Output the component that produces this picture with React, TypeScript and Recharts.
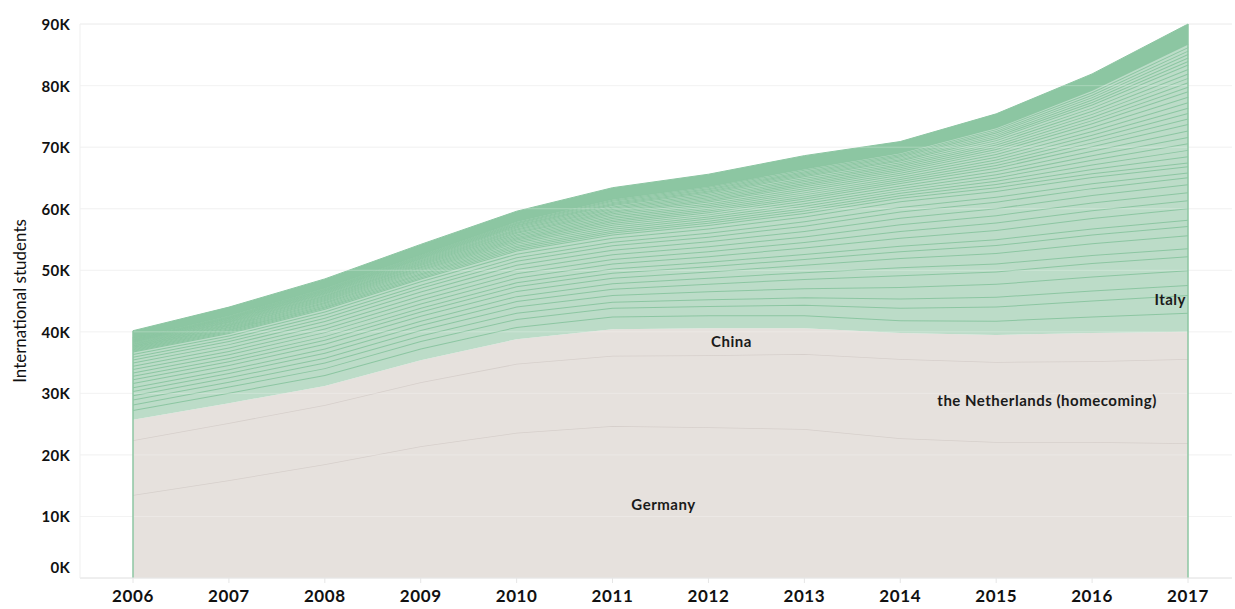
import { AreaChart, Area, XAxis, YAxis, CartesianGrid, ReferenceLine, ReferenceDot } from "recharts";

const years = ["2006", "2007", "2008", "2009", "2010", "2011", "2012", "2013", "2014", "2015", "2016", "2017"];
const yTicks = [0, 10000, 20000, 30000, 40000, 50000, 60000, 70000, 80000, 90000];

// bottom (beige) origins
const germany = [13500, 15900, 18500, 21400, 23600, 24700, 24500, 24200, 22700, 22100, 22100, 21900];
const netherlands = [8900, 9300, 9600, 10400, 11200, 11400, 11700, 12200, 12900, 13000, 13100, 13700];
const china = [3300, 3200, 3100, 3600, 4000, 4300, 4400, 4200, 4200, 4400, 4600, 4400];

// green origins, stacked from the bottom up
const originBelowItaly = [1600, 1700, 1800, 1900, 2000, 2100, 2100, 2100, 2100, 2300, 2700, 3100];
const italy = [900, 1000, 1100, 1200, 1300, 1400, 1500, 1700, 2000, 2300, 2600, 2900];
const mediumOrigins = [
  [800, 800, 900, 900, 1000, 1000, 1100, 1200, 1500, 1600, 1600, 1600],
  [700, 700, 800, 900, 1000, 1100, 1300, 1500, 1900, 2100, 2300, 2400],
  [700, 700, 800, 800, 900, 1000, 1200, 1500, 1900, 2000, 2200, 2300],
  [600, 600, 700, 700, 800, 900, 1000, 1100, 1300, 1300, 1300, 1300],
  [700, 700, 750, 800, 850, 900, 1000, 1200, 1500, 1700, 1900, 2100],
  [600, 600, 650, 700, 750, 800, 850, 950, 1100, 1300, 1400, 1500],
  [550, 550, 600, 600, 650, 700, 750, 800, 900, 950, 1000, 1000],
  [550, 600, 650, 700, 750, 800, 900, 1050, 1300, 1500, 1700, 1900],
  [550, 550, 600, 650, 700, 750, 800, 900, 1100, 1200, 1250, 1300],
  [550, 550, 600, 650, 700, 750, 800, 900, 1100, 1200, 1250, 1300],
  [500, 550, 600, 650, 700, 750, 800, 900, 1050, 1150, 1250, 1300],
  [500, 500, 550, 600, 650, 700, 750, 850, 1000, 1050, 1100, 1100],
  [450, 450, 500, 500, 550, 600, 650, 700, 750, 800, 800, 800],
  [450, 450, 500, 550, 600, 650, 700, 800, 900, 950, 1000, 1000],
  [400, 400, 450, 450, 500, 500, 550, 550, 600, 600, 600, 600],
];
const smallOrigins = [
  [130, 165, 195, 225, 270, 325, 355, 400, 400, 520, 720, 1020],
  [120, 155, 185, 215, 260, 315, 345, 395, 395, 525, 735, 1045],
  [125, 160, 190, 220, 265, 320, 350, 390, 390, 530, 750, 1060],
  [115, 150, 180, 210, 255, 310, 340, 395, 400, 525, 730, 1040],
  [120, 155, 185, 215, 260, 315, 345, 400, 395, 520, 740, 1050],
  [110, 150, 175, 205, 250, 305, 335, 390, 390, 530, 735, 1055],
  [105, 140, 165, 185, 225, 270, 295, 335, 340, 450, 625, 890],
  [100, 135, 160, 180, 220, 265, 290, 330, 335, 445, 620, 885],
  [95, 130, 155, 175, 215, 260, 285, 325, 330, 440, 615, 880],
  [100, 135, 160, 180, 220, 265, 290, 330, 335, 445, 620, 885],
  [105, 135, 160, 185, 225, 270, 290, 335, 340, 450, 625, 890],
  [95, 135, 160, 175, 215, 260, 290, 325, 330, 440, 615, 880],
  [85, 115, 135, 155, 185, 225, 245, 275, 280, 370, 515, 730],
  [80, 110, 130, 150, 180, 220, 240, 270, 275, 365, 510, 725],
  [80, 110, 130, 150, 180, 220, 240, 270, 275, 365, 510, 725],
  [75, 105, 125, 145, 175, 215, 235, 265, 270, 360, 505, 720],
  [85, 110, 130, 150, 180, 220, 240, 275, 280, 370, 510, 730],
  [75, 110, 130, 150, 180, 220, 240, 265, 270, 360, 510, 720],
  [70, 90, 105, 120, 145, 175, 190, 215, 220, 290, 400, 570],
  [65, 85, 100, 115, 140, 170, 185, 210, 215, 285, 395, 565],
  [65, 85, 100, 115, 140, 170, 185, 210, 215, 285, 395, 565],
  [60, 80, 95, 110, 135, 165, 180, 205, 210, 280, 390, 560],
  [65, 85, 100, 115, 140, 170, 185, 210, 215, 285, 395, 565],
  [60, 85, 100, 115, 140, 170, 185, 210, 215, 285, 395, 565],
];
const remainingOrigins = [1200, 1300, 1400, 1600, 1600, 1800, 1900, 2100, 1800, 2200, 2600, 3200];

const BEIGE = "#e6e1dd";
const BEIGE_LINE = "#d6cfcb";
const GREEN = "#bcdcc8";
const GREEN_LINE = "#8cc6a2";
const FONT = "Lato, 'Open Sans', sans-serif";

const greenRows = [originBelowItaly, italy, ...mediumOrigins, ...smallOrigins];
const greenKeys = greenRows.map((_, k) => `g${k}`);

const data = years.map((year, i) => {
  const row: Record<string, number | string> = {
    year,
    germany: germany[i],
    netherlands: netherlands[i],
    china: china[i],
    rest: remainingOrigins[i],
  };
  greenRows.forEach((r, k) => {
    row[greenKeys[k]] = r[i];
  });
  return row;
});

const totals = years.map(
  (_, i) =>
    germany[i] + netherlands[i] + china[i] + remainingOrigins[i] + greenRows.reduce((s, r) => s + r[i], 0)
);

// eslint-disable-next-line @typescript-eslint/no-explicit-any
const YTick = (props: any) => {
  const { x, y, payload } = props;
  return (
    <text
      x={x}
      y={payload.value === 0 ? y - 11 : y}
      textAnchor="end"
      dominantBaseline="central"
      fontFamily={FONT}
      fontWeight={700}
      fontSize={15}
      letterSpacing={0.3}
      fill="#111"
    >
      {payload.value / 1000}K
    </text>
  );
};

// eslint-disable-next-line @typescript-eslint/no-explicit-any
const yLabel = (props: any) => {
  const { viewBox } = props;
  const cx = viewBox.x + 19;
  const cy = viewBox.y + viewBox.height / 2;
  return (
    <text
      x={cx}
      y={cy}
      transform={`rotate(-90 ${cx} ${cy})`}
      textAnchor="middle"
      dominantBaseline="central"
      fontFamily={FONT}
      fontSize={17}
      fill="#111"
    >
      International students
    </text>
  );
};

const areaLabel = (text: string, dx: number, anchor: "start" | "middle" | "end") =>
  // eslint-disable-next-line @typescript-eslint/no-explicit-any
  (props: any) => (
    <text
      x={props.cx + dx}
      y={props.cy}
      textAnchor={anchor}
      dominantBaseline="central"
      fontFamily={FONT}
      fontWeight={700}
      fontSize={15}
      letterSpacing={0.5}
      fill="#1a1a1a"
    >
      {text}
    </text>
  );

export default function App() {
  return (
    <div style={{ width: 1235, height: 609 }}>
      <style>{"body{margin:0}"}</style>
      <AreaChart width={1235} height={609} data={data} margin={{ top: 24, right: 3, bottom: 0, left: 0 }}>
        <CartesianGrid vertical={false} stroke="#efefef" />
        <XAxis
          dataKey="year"
          height={31}
          padding={{ left: 53, right: 44 }}
          axisLine={{ stroke: "#e6e6e6" }}
          tickLine={{ stroke: "#e6e6e6" }}
          tickSize={5}
          tickMargin={7}
          tick={{ fill: "#111", fontSize: 17, fontWeight: 700, fontFamily: FONT, letterSpacing: 0.6 }}
        />
        <YAxis
          width={80}
          domain={[0, 90000]}
          ticks={yTicks}
          interval={0}
          axisLine={{ stroke: "#efefef" }}
          tickLine={false}
          tickMargin={4}
          tick={YTick}
          label={{ content: yLabel }}
        />
        <Area type="linear" dataKey="germany" stackId="1" fill={BEIGE} fillOpacity={1} stroke={BEIGE_LINE} strokeWidth={1.5} isAnimationActive={false} dot={false} activeDot={false} />
        <Area type="linear" dataKey="netherlands" stackId="1" fill={BEIGE} fillOpacity={1} stroke={BEIGE_LINE} strokeWidth={1.5} isAnimationActive={false} dot={false} activeDot={false} />
        <Area type="linear" dataKey="china" stackId="1" fill={BEIGE} fillOpacity={1} stroke="none" isAnimationActive={false} dot={false} activeDot={false} />
        {greenKeys.map((k) => (
          <Area
            key={k}
            type="linear"
            dataKey={k}
            stackId="1"
            fill={GREEN}
            fillOpacity={1}
            stroke={GREEN_LINE}
            strokeWidth={2}
            isAnimationActive={false}
            dot={false}
            activeDot={false}
          />
        ))}
        <Area type="linear" dataKey="rest" stackId="1" fill={GREEN_LINE} fillOpacity={1} stroke={GREEN_LINE} strokeWidth={1} isAnimationActive={false} dot={false} activeDot={false} />
        {yTicks.slice(1).map((t) => (
          <ReferenceLine key={t} y={t} stroke="#ffffff" strokeOpacity={0.25} />
        ))}
        <ReferenceLine segment={[{ x: "2006", y: 0 }, { x: "2006", y: totals[0] }]} stroke={GREEN_LINE} strokeWidth={1.5} />
        <ReferenceLine segment={[{ x: "2017", y: 0 }, { x: "2017", y: totals[11] }]} stroke={GREEN_LINE} strokeWidth={1.5} />
        <ReferenceDot x="2012" y={12000} r={1} fill="none" stroke="none" shape={areaLabel("Germany", -45, "middle")} />
        <ReferenceDot x="2012" y={38500} r={1} fill="none" stroke="none" shape={areaLabel("China", 23, "middle")} />
        <ReferenceDot x="2016" y={28900} r={1} fill="none" stroke="none" shape={areaLabel("the Netherlands (homecoming)", -45, "middle")} />
        <ReferenceDot x="2017" y={45300} r={1} fill="none" stroke="none" shape={areaLabel("Italy", -2, "end")} />
      </AreaChart>
    </div>
  );
}
